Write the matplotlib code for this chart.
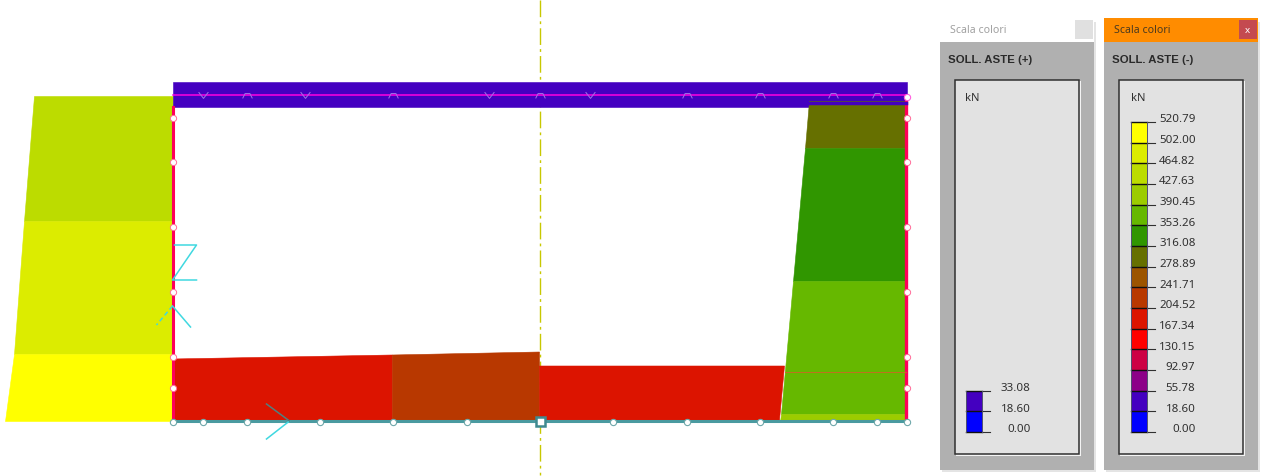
'''Redraws the member force diagram with its two colour scale windows.
Everything is in screen pixels, y going down.'''

import matplotlib
matplotlib.use('Agg')
import matplotlib.pyplot as plt
from matplotlib.patches import Polygon, Rectangle
from matplotlib.path import Path

plt.rcParams['font.family'] = ['Noto Sans', 'DejaVu Sans']

# scale colours, bottom to top
SCALE_COLORS = ['#0000ff', '#4400c0', '#8c0088', '#cc0044', '#ff0000', '#dc1400', '#b83800', '#9c5400',
                '#667000', '#309600', '#66b800', '#9ccc00', '#bcdc00', '#dcec00', '#ffff00']
SCALE_NEG = ['0.00', '18.60', '55.78', '92.97', '130.15', '167.34', '204.52', '241.71',
             '278.89', '316.08', '353.26', '390.45', '427.63', '464.82', '502.00', '520.79']
SCALE_POS = ['0.00', '18.60', '33.08']

# diagram bands: colour index and outline
BANDS = [
    (12, [(34, 96), (173, 96), (173, 221), (24, 221)]),
    (13, [(24, 221), (173, 221), (173, 354), (14, 354)]),
    (14, [(14, 354), (173, 354), (173, 421), (5, 421)]),
    (1, [(173, 82), (907, 82), (907, 107), (173, 107)]),
    (8, [(809, 101), (906, 101), (906, 148), (805, 148)]),
    (9, [(805, 148), (906, 148), (906, 281), (793, 281)]),
    (10, [(793, 281), (906, 281), (906, 414), (781, 414)]),
    (11, [(781, 414), (906, 414), (906, 421), (780, 421)]),
    (5, [(173, 359), (393, 355), (393, 420), (173, 420)]),
    (6, [(393, 355), (540, 352), (540, 420), (393, 420)]),
    (5, [(540, 366), (785, 366), (780, 420), (540, 420)]),
]

SIDE_NODES_Y = [118, 162, 227, 292, 357, 388]
BOTTOM_NODES_X = [173, 203, 247, 320, 393, 467, 613, 687, 760, 833, 877, 907]
TOP_ARCS_X = [247, 393, 540, 687, 760, 833, 877]
TOP_VEES_X = [203, 305, 489, 590]

CYAN_LINES = [
    [(175, 245), (197, 245), (173, 280), (197, 280)],
    [(173, 306), (191, 327)],
    [(290, 421), (267, 439)],
]

VEE = Path([(-1, 0.7), (0, -0.6), (1, 0.7)])
ARC = Path([(-1, -0.6), (-0.5, 0.4), (0.5, 0.4), (1, -0.6)])


def draw_panel(ax, left, title, heading, labels, bar_x, active):
    ax.add_patch(Rectangle((left + 2, 22), 154, 450, fc='#e4e4e4', ec='none', zorder=1))
    ax.add_patch(Rectangle((left, 18), 154, 452, fc='#b0b0b0', ec='none', zorder=2))
    bar_color = '#ff8c00' if active else 'white'
    ax.add_patch(Rectangle((left, 18), 154, 24, fc=bar_color, ec='none', zorder=3))
    ax.text(left + 11, 30, title, fontsize=7.6, va='center', zorder=4,
            color='#4a3a20' if active else '#a0a0a0')
    if active:
        ax.add_patch(Rectangle((left + 135, 20), 18, 19, fc='#c44a50', ec='none', zorder=4))
        ax.text(left + 144, 29.5, 'x', fontsize=7, fontweight='bold', color='white',
                ha='center', va='center', zorder=5)
    else:
        ax.add_patch(Rectangle((left + 135, 20), 18, 19, fc='#e0e0e0', ec='none', zorder=4))
    ax.text(left + 8, 59, heading, fontsize=8.2, fontweight='bold', family='Liberation Sans',
            va='center', color='#2a2a2a', zorder=4)

    ax.add_patch(Rectangle((left + 16, 81), 125, 375, fc='#f4f4f4', ec='none', zorder=3))
    ax.add_patch(Rectangle((left + 15, 80), 124, 374, fc='#e2e2e2', ec='#303030', lw=1.1, zorder=4))
    ax.text(bar_x, 98, 'kN', fontsize=8, va='center', color='#303030', zorder=5)

    step = 20.67
    bottom = 432
    for i, label in enumerate(labels):
        y = bottom - i * step
        if i < len(labels) - 1:
            ax.add_patch(Rectangle((bar_x, y - step), 16, step, fc=SCALE_COLORS[i], ec='none', zorder=5))
        ax.plot([bar_x, bar_x + 16], [y, y], color='#101010', lw=1.0, zorder=6)
        ax.plot([bar_x + 16, bar_x + 24], [y, y], color='#303030', lw=0.8, zorder=6)
        ax.text(bar_x + 65, y - 3, label, fontsize=8.3, ha='right', va='center', color='#303030', zorder=6)
    top = bottom - (len(labels) - 1) * step
    ax.plot([bar_x, bar_x], [top, bottom], color='#505070', lw=0.7, zorder=6)
    ax.plot([bar_x + 16, bar_x + 16], [top, bottom], color='#505070', lw=0.7, zorder=6)


def draw_diagram(ax):
    # centre line goes under the bands
    ax.plot([540.5, 540.5], [0, 475], color='#c8c800', lw=1.0, ls=(0, (12, 3, 2, 3)), zorder=1)

    for idx, pts in BANDS:
        color = SCALE_COLORS[idx]
        ax.add_patch(Polygon(pts, closed=True, fc=color, ec=color, lw=0.4, zorder=2))

    # frame members
    ax.plot([173, 907], [95.5, 95.5], color='#ff00e0', lw=1.1, zorder=3)
    ax.plot([173, 173], [107, 420], color='#ff0058', lw=2.2, zorder=3)
    ax.plot([906.5, 906.5], [96, 421], color='#ff0058', lw=2.4, zorder=3)
    ax.plot([173, 907], [421.5, 421.5], color='#4a9aa0', lw=2.2, zorder=3)
    ax.plot([785, 906], [372, 372], color='#c07020', lw=0.7, zorder=3)
    ax.plot([808, 906], [103.5, 103.5], color='#4400c0', lw=2.5, zorder=3)

    # restraint marks
    for pts in CYAN_LINES:
        ax.plot(*zip(*pts), color='#40d8e0', lw=1.1, zorder=5)
    ax.plot([173, 157], [306, 325], color='#40d8e0', lw=1.1, ls=(0, (3, 2)), zorder=5)
    ax.plot([267, 290], [404, 421], color='#4f7f80', lw=1.1, zorder=5)

    # nodes
    for x in (173, 907):
        ax.plot([x] * len(SIDE_NODES_Y), SIDE_NODES_Y, 'o', ms=4.5, mfc='white', mec='#ff6a98', mew=0.7, zorder=6)
    ax.plot(BOTTOM_NODES_X, [422] * len(BOTTOM_NODES_X), 'o', ms=4.5, mfc='white', mec='#6fa8aa', mew=0.8, zorder=6)
    ax.plot([907], [97], 'o', ms=4.5, mfc='white', mec='#ff60e0', mew=0.8, zorder=6)
    ax.plot(TOP_ARCS_X, [95] * len(TOP_ARCS_X), marker=ARC, ls='none', ms=7, mfc='none', mec='#a070e8', mew=0.7, zorder=6)
    ax.plot(TOP_VEES_X, [95] * len(TOP_VEES_X), marker=VEE, ls='none', ms=7, mfc='none', mec='#a070e8', mew=0.7, zorder=6)
    ax.add_patch(Rectangle((536.8, 417.3), 8.4, 8.4, fc='white', ec='#3f8a90', lw=1.8, zorder=7))


def main():
    fig = plt.figure(figsize=(12.61, 4.77), dpi=100)
    ax = fig.add_axes([0, 0, 1, 1])
    ax.set_xlim(0.5, 1261.5)
    ax.set_ylim(476, -1)
    ax.axis('off')

    draw_diagram(ax)
    draw_panel(ax, 940, 'Scala colori', 'SOLL. ASTE (+)', SCALE_POS, 966, False)
    draw_panel(ax, 1104, 'Scala colori', 'SOLL. ASTE (-)', SCALE_NEG, 1131, True)

    fig.savefig('out.png', dpi=100)


if __name__ == '__main__':
    main()
